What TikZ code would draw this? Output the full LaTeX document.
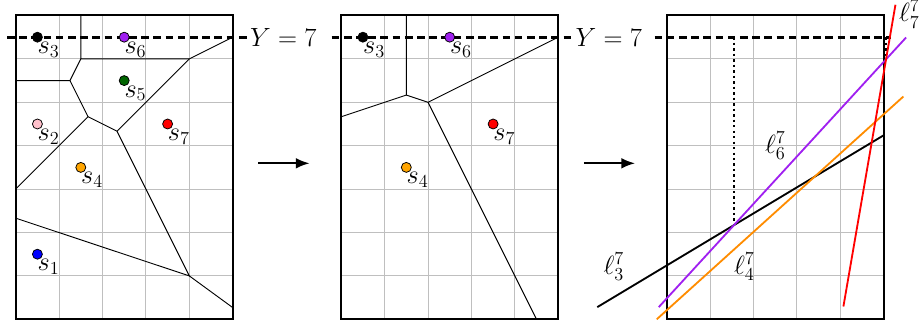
\documentclass[tikz,border=0pt]{standalone}
\usetikzlibrary{arrows.meta,calc}
\definecolor{sitepurple}{HTML}{A020F0}
\definecolor{siteorange}{HTML}{FFA500}
\definecolor{lineorange}{HTML}{FF8C00}
\definecolor{sitegreen}{HTML}{006400}
\definecolor{sitepink}{HTML}{FFC0CB}
\begin{document}
\begin{tikzpicture}[
  gridline/.style={black!25, line width=0.6pt},
  frame/.style={line width=1.3pt},
  vedge/.style={line width=0.6pt},
  sweep/.style={line width=2pt, dash pattern=on 5pt off 3pt},
  site/.style={circle, draw=black, line width=0.5pt, inner sep=0pt, minimum size=0.23cm},
  slabel/.style={anchor=north west, inner sep=0pt, font=\LARGE},
  llabel/.style={anchor=base west, inner sep=0pt, font=\LARGE},
  ylabel/.style={anchor=west, inner sep=1pt, font=\LARGE},
  flow/.style={line width=1.2pt, -{Latex[length=9pt,width=7pt]}},
  env/.style={line width=1.2pt},
  vert/.style={line width=1.6pt, dotted}
]
\useasboundingbox (-0.362,-0.177) rectangle (20.882,7.357);

% ---------- panel 1 ----------
\begin{scope}
  \draw[gridline] (0,0) grid (5,7);
  \draw[frame] (0,0) rectangle (5,7);
  \coordinate (pa) at (1.5,7);
  \coordinate (pb) at (1.5,6);
  \coordinate (pc) at (4,6);
  \coordinate (pd) at (5,6.5);
  \coordinate (pe) at (1.25,5.5);
  \coordinate (pf) at (0,5.5);
  \coordinate (pg) at (5/3,14/3);
  \coordinate (ph) at (0,3);
  \coordinate (pi) at (7/3,13/3);
  \coordinate (pj) at (4,1);
  \coordinate (pk) at (0,2.33);
  \coordinate (pl) at (5,0.27);
  \draw[vedge] (pa) -- (pb) -- (pc) -- (pd);
  \draw[vedge] (pb) -- (pe) -- (pf);
  \draw[vedge] (pe) -- (pg) -- (ph);
  \draw[vedge] (pg) -- (pi) -- (pc);
  \draw[vedge] (pi) -- (pj) -- (pk);
  \draw[vedge] (pj) -- (pl);
  \coordinate (ya) at (-0.2,6.5);
  \coordinate (yb) at (5.33,6.5);
  \draw[sweep] (ya) -- (yb) node[ylabel] (yl1) {$Y=7$};
  \node[site, fill=blue] (a1) at (0.5,1.5) {};
  \node[site, fill=sitepink] (a2) at (0.5,4.5) {};
  \node[site, fill=black] (a3) at (0.5,6.5) {};
  \node[site, fill=siteorange] (a4) at (1.5,3.5) {};
  \node[site, fill=sitegreen] (a5) at (2.5,5.5) {};
  \node[site, fill=sitepurple] (a6) at (2.5,6.5) {};
  \node[site, fill=red] (a7) at (3.5,4.5) {};
  \foreach \i in {1,...,7} {
    \node[slabel] (la\i) at ($(a\i.center)+(0,-0.11)$) {$s_{\i}$};
  }
\end{scope}

% ---------- arrow 1 ----------
\coordinate (f1s) at (5.59,3.594);
\coordinate (f1e) at (6.77,3.594);
\draw[flow] (f1s) -- (f1e);

% ---------- panel 2 ----------
\begin{scope}[xshift=7.5cm]
  \draw[gridline] (0,0) grid (5,7);
  \draw[frame] (0,0) rectangle (5,7);
  \coordinate (qa) at (1.5,7);
  \coordinate (qb) at (1.5,31/6);
  \coordinate (qc) at (0,14/3);
  \coordinate (qd) at (2,5);
  \coordinate (qe) at (5,6.5);
  \coordinate (qf) at (4.5,0);
  \draw[vedge] (qa) -- (qb) -- (qc);
  \draw[vedge] (qb) -- (qd) -- (qe);
  \draw[vedge] (qd) -- (qf);
  \coordinate (za) at (-0.22,6.5);
  \coordinate (zb) at (5.33,6.5);
  \draw[sweep] (za) -- (zb) node[ylabel] (yl2) {$Y=7$};
  \node[site, fill=black] (b3) at (0.5,6.5) {};
  \node[site, fill=siteorange] (b4) at (1.5,3.5) {};
  \node[site, fill=sitepurple] (b6) at (2.5,6.5) {};
  \node[site, fill=red] (b7) at (3.5,4.5) {};
  \foreach \i in {3,4,6,7} {
    \node[slabel] (lb\i) at ($(b\i.center)+(0,-0.11)$) {$s_{\i}$};
  }
\end{scope}

% ---------- arrow 2 ----------
\coordinate (f2s) at (13.09,3.594);
\coordinate (f2e) at (14.27,3.594);
\draw[flow] (f2s) -- (f2e);

% ---------- panel 3 ----------
\begin{scope}[xshift=15cm]
  \draw[gridline] (0,0) grid (5,7);
  \draw[frame] (0,0) rectangle (5,7);
  \coordinate (wa) at (-0.28,6.5);
  \coordinate (wb) at (5.17,6.5);
  \draw[sweep] (wa) -- (wb);
  \coordinate (l3a) at (-1.60,0.28);
  \coordinate (l3b) at (5.0,4.24);
  \coordinate (l6a) at (-0.184,0.28);
  \coordinate (l6b) at (5.515,6.493);
  \coordinate (l4a) at (-0.23,0.0);
  \coordinate (l4b) at (5.454,5.134);
  \coordinate (l7a) at (4.071,0.295);
  \coordinate (l7b) at (5.27,7.247);
  \coordinate (i36) at (intersection of l3a--l3b and l6a--l6b);
  \coordinate (i67) at (intersection of l6a--l6b and l7a--l7b);
  \coordinate (t36) at (i36 |- wa);
  \coordinate (t67) at (i67 |- wa);
  \draw[vert] (t36) -- (i36);
  \draw[vert] (t67) -- (i67);
  \draw[env, black] (l3a) -- (l3b);
  \draw[env, lineorange] (l4a) -- (l4b);
  \draw[env, sitepurple] (l6a) -- (l6b);
  \draw[env, red] (l7a) -- (l7b);
  \node[llabel] (m3) at (-1.46,1.04) {$\ell_3^7$};
  \node[llabel] (m4) at (1.544,1.04) {$\ell_4^7$};
  \node[llabel] (m6) at (2.26,3.83) {$\ell_6^7$};
  \node[llabel] (m7) at (5.346,6.86) {$\ell_7^7$};
\end{scope}
\end{tikzpicture}
\end{document}
